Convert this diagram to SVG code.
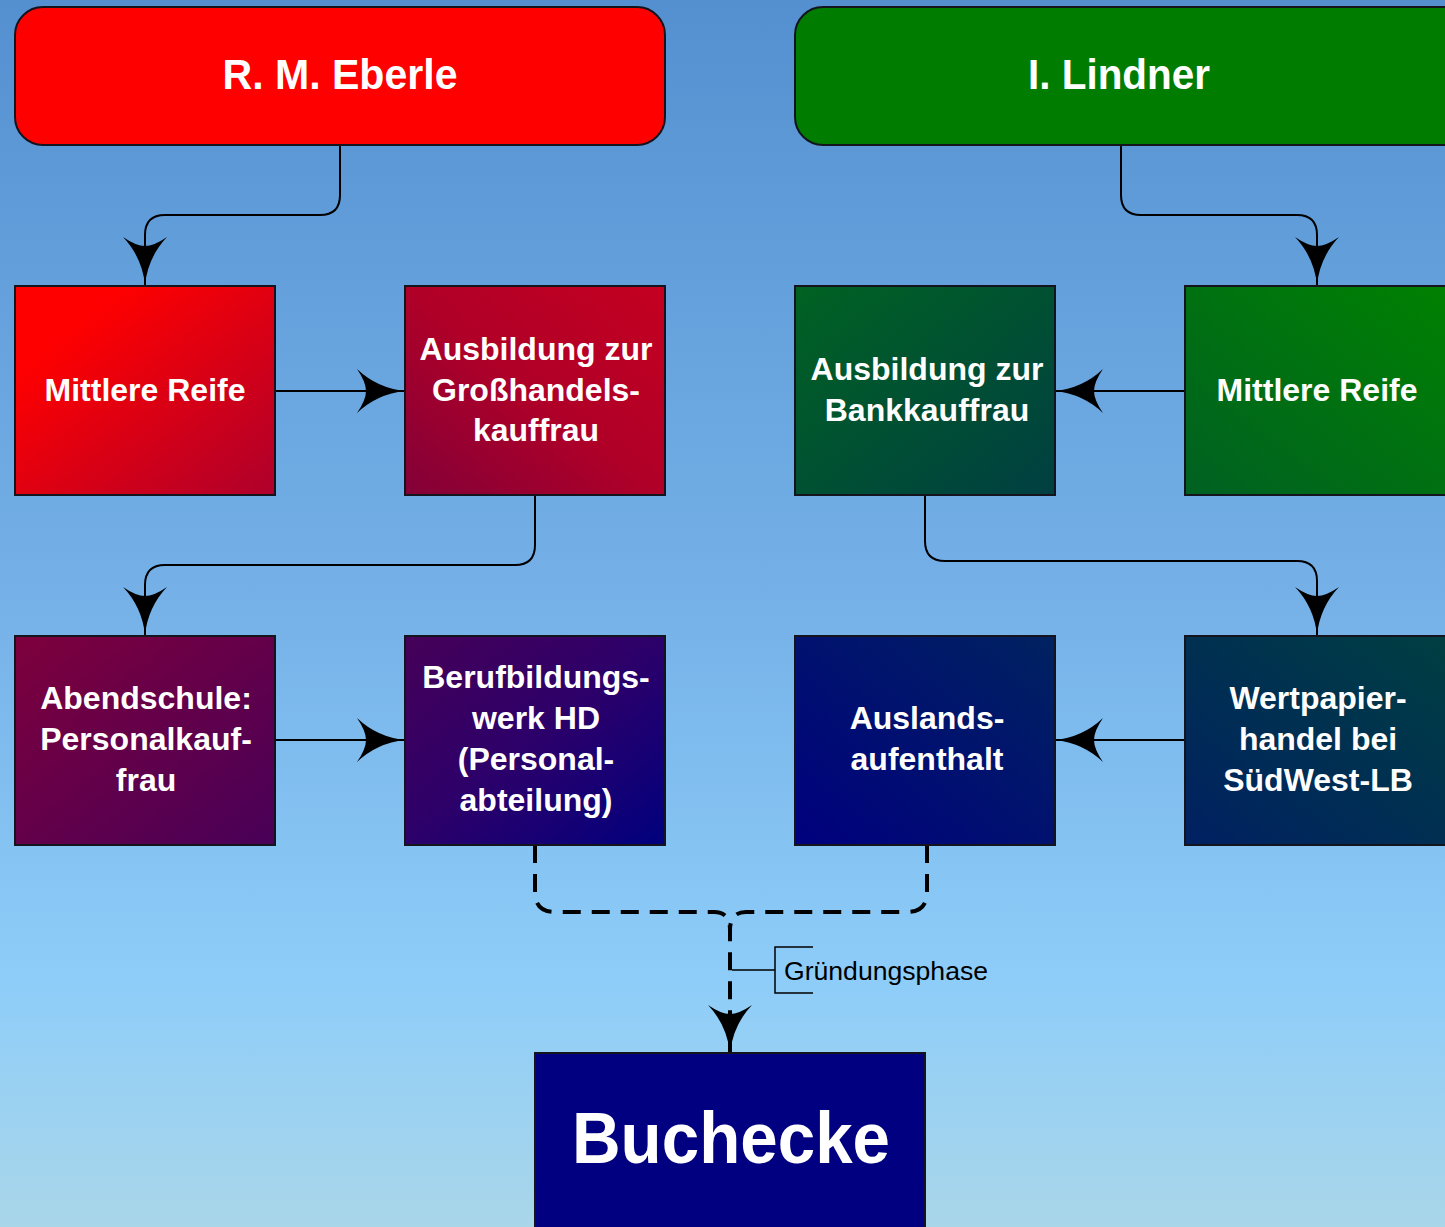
<svg xmlns="http://www.w3.org/2000/svg" width="1445" height="1227" viewBox="0 0 1445 1227">
<style>
.box{stroke:#14141e;stroke-width:2}
.t{font-family:"Liberation Sans",Arial,sans-serif;font-weight:bold;fill:#fff;text-anchor:middle}
.bt{font-size:32px}
.con{fill:none;stroke:#000;stroke-width:2}
.dash{fill:none;stroke:#000;stroke-width:4;stroke-dasharray:18 11}
.lbl{font-family:"Liberation Sans",Arial,sans-serif;font-size:26.6px;fill:#000}
</style>
<defs>
<linearGradient id="bg" x1="0" y1="0" x2="0" y2="1">
<stop offset="0" stop-color="#5490d0"/>
<stop offset="0.5" stop-color="#76b2e8"/>
<stop offset="0.8" stop-color="#8ecdf9"/>
<stop offset="1" stop-color="#a9d6e9"/>
</linearGradient>
<linearGradient id="gRed" x1="0.2" y1="0.2" x2="1" y2="1">
<stop offset="0" stop-color="#ff0000"/>
<stop offset="1" stop-color="#ae002c"/>
</linearGradient>
<linearGradient id="gGross" x1="1" y1="0" x2="0" y2="1">
<stop offset="0" stop-color="#c40020"/>
<stop offset="0.5" stop-color="#b00028"/>
<stop offset="1" stop-color="#820038"/>
</linearGradient>
<linearGradient id="gAbend" x1="0" y1="0" x2="1" y2="1">
<stop offset="0" stop-color="#7e003c"/>
<stop offset="1" stop-color="#480058"/>
</linearGradient>
<linearGradient id="gBeruf" x1="0" y1="0" x2="1" y2="1">
<stop offset="0" stop-color="#460058"/>
<stop offset="0.5" stop-color="#2c006a"/>
<stop offset="1" stop-color="#00007e"/>
</linearGradient>
<linearGradient id="gBank" x1="0" y1="0" x2="1" y2="1">
<stop offset="0" stop-color="#006222"/>
<stop offset="1" stop-color="#003f42"/>
</linearGradient>
<linearGradient id="gGreen" x1="1" y1="0" x2="0" y2="1">
<stop offset="0" stop-color="#008200"/>
<stop offset="1" stop-color="#006022"/>
</linearGradient>
<linearGradient id="gAusl" x1="0" y1="1" x2="1" y2="0">
<stop offset="0" stop-color="#00007e"/>
<stop offset="1" stop-color="#002260"/>
</linearGradient>
<linearGradient id="gWert" x1="1" y1="0" x2="0" y2="1">
<stop offset="0" stop-color="#004040"/>
<stop offset="1" stop-color="#002062"/>
</linearGradient>
<marker id="ah" markerUnits="userSpaceOnUse" viewBox="0 0 48 44" markerWidth="48" markerHeight="44" refX="48" refY="22" orient="auto">
<path d="M48,22 Q20,19 0,0 Q9,13 9,22 Q9,31 0,44 Q20,25 48,22 Z" fill="#000"/>
</marker>
</defs>
<rect x="0" y="0" width="1445" height="1227" fill="url(#bg)"/>
<g id="connectors">
<path class="con" d="M340,145 V195 Q340,215 320,215 H165 Q145,215 145,235 V285" marker-end="url(#ah)"/>
<path class="con" d="M275,391 H405" marker-end="url(#ah)"/>
<path class="con" d="M535,495 V545 Q535,565 515,565 H165 Q145,565 145,585 V635" marker-end="url(#ah)"/>
<path class="con" d="M275,740 H405" marker-end="url(#ah)"/>
<path class="con" d="M1121,145 V195 Q1121,215 1141,215 H1297 Q1317,215 1317,235 V285" marker-end="url(#ah)"/>
<path class="con" d="M1185,391 H1055" marker-end="url(#ah)"/>
<path class="con" d="M925,495 V541 Q925,561 945,561 H1297 Q1317,561 1317,581 V635" marker-end="url(#ah)"/>
<path class="con" d="M1185,740 H1055" marker-end="url(#ah)"/>
<path class="dash" d="M535,845 V892 Q535,912 555,912 H714 Q730,912 730,930"/>
<path class="dash" d="M927,845 V892 Q927,912 907,912 H746 Q730,912 730,930 V1053" marker-end="url(#ah)"/>
</g>
<g id="annotation">
<path class="con" d="M732,970 H775 M813,947 H775 V993 H813" style="stroke-width:1.5"/>
<text class="lbl" x="784" y="980">Gründungsphase</text>
</g>
<g id="eberle">
<rect class="box" x="15" y="7" width="650" height="138" rx="28" fill="#ff0000"/>
<text class="t" x="340" y="89" font-size="43" textLength="235" lengthAdjust="spacingAndGlyphs">R. M. Eberle</text>
</g>
<g id="lindner">
<rect class="box" x="795" y="7" width="680" height="138" rx="28" fill="#007d00"/>
<text class="t" x="1119" y="89" font-size="43" textLength="182" lengthAdjust="spacingAndGlyphs">I. Lindner</text>
</g>
<g id="mr-left">
<rect class="box" x="15" y="286" width="260" height="209" fill="url(#gRed)"/>
<text class="t bt" x="145" y="401">Mittlere Reife</text>
</g>
<g id="grosshandel">
<rect class="box" x="405" y="286" width="260" height="209" fill="url(#gGross)"/>
<text class="t bt" x="536" y="360">Ausbildung zur</text>
<text class="t bt" x="536" y="401">Großhandels-</text>
<text class="t bt" x="536" y="441">kauffrau</text>
</g>
<g id="bank">
<rect class="box" x="795" y="286" width="260" height="209" fill="url(#gBank)"/>
<text class="t bt" x="927" y="380">Ausbildung zur</text>
<text class="t bt" x="927" y="421">Bankkauffrau</text>
</g>
<g id="mr-right">
<rect class="box" x="1185" y="286" width="280" height="209" fill="url(#gGreen)"/>
<text class="t bt" x="1317" y="401">Mittlere Reife</text>
</g>
<g id="abendschule">
<rect class="box" x="15" y="636" width="260" height="209" fill="url(#gAbend)"/>
<text class="t bt" x="146" y="709">Abendschule:</text>
<text class="t bt" x="146" y="750">Personalkauf-</text>
<text class="t bt" x="146" y="791">frau</text>
</g>
<g id="berufbildungswerk">
<rect class="box" x="405" y="636" width="260" height="209" fill="url(#gBeruf)"/>
<text class="t bt" x="536" y="688">Berufbildungs-</text>
<text class="t bt" x="536" y="729">werk HD</text>
<text class="t bt" x="536" y="770">(Personal-</text>
<text class="t bt" x="536" y="811">abteilung)</text>
</g>
<g id="ausland">
<rect class="box" x="795" y="636" width="260" height="209" fill="url(#gAusl)"/>
<text class="t bt" x="927" y="729">Auslands-</text>
<text class="t bt" x="927" y="770">aufenthalt</text>
</g>
<g id="wertpapier">
<rect class="box" x="1185" y="636" width="280" height="209" fill="url(#gWert)"/>
<text class="t bt" x="1318" y="709">Wertpapier-</text>
<text class="t bt" x="1318" y="750">handel bei</text>
<text class="t bt" x="1318" y="791">SüdWest-LB</text>
</g>
<g id="buchecke">
<rect class="box" x="535" y="1053" width="390" height="200" fill="#000080"/>
<text class="t" x="731" y="1163" font-size="72" textLength="318" lengthAdjust="spacingAndGlyphs">Buchecke</text>
</g>
</svg>
